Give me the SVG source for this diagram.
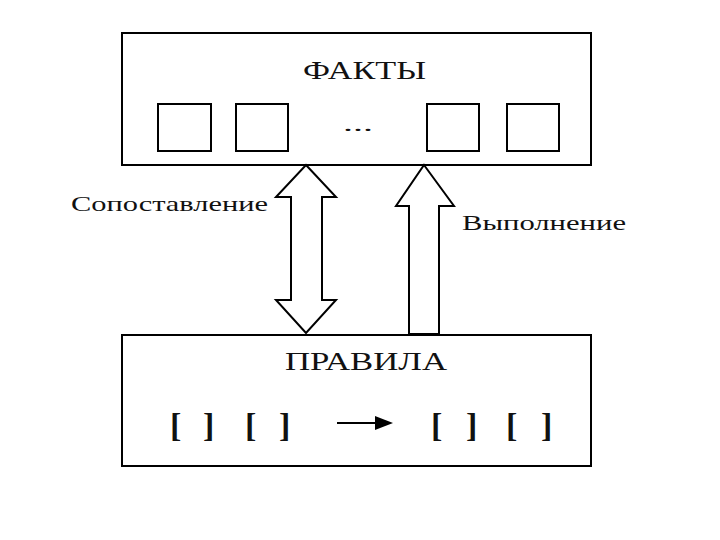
<svg xmlns="http://www.w3.org/2000/svg" width="720" height="540" viewBox="0 0 720 540">
<style>
.box{fill:#fff;stroke:#000;stroke-width:2}
.arr{fill:#fff;stroke:#000;stroke-width:2;stroke-linejoin:miter}
.t{font-family:"Liberation Serif","Times New Roman",serif;fill:#111}
.br{font-family:"Liberation Serif","Times New Roman",serif;font-weight:bold;font-size:34px;fill:#111}
</style>
<rect width="720" height="540" fill="#fff"/>
<g id="facts">
<rect class="box" x="122" y="33" width="469" height="132"/>
<text class="t" x="303" y="79" font-size="26" textLength="123" lengthAdjust="spacingAndGlyphs">ФАКТЫ</text>
<rect class="box" x="158" y="104" width="53" height="47"/>
<rect class="box" x="236" y="104" width="52" height="47"/>
<text class="t" x="343" y="131" font-size="18" textLength="30" lengthAdjust="spacingAndGlyphs">...</text>
<rect class="box" x="427" y="104" width="52" height="47"/>
<rect class="box" x="507" y="104" width="52" height="47"/>
</g>
<g id="rules">
<rect class="box" x="122" y="335" width="469" height="131"/>
<text class="t" x="285" y="370" font-size="26" textLength="162" lengthAdjust="spacingAndGlyphs">ПРАВИЛА</text>
<text class="br" x="170" y="437">[</text>
<text class="br" x="203" y="437">]</text>
<text class="br" x="245" y="437">[</text>
<text class="br" x="279" y="437">]</text>
<text class="br" x="431" y="437">[</text>
<text class="br" x="466" y="437">]</text>
<text class="br" x="506" y="437">[</text>
<text class="br" x="541" y="437">]</text>
<line x1="337" y1="423" x2="378" y2="423" stroke="#000" stroke-width="2"/>
<polygon points="375,416 393,423 375,430" fill="#000"/>
</g>
<g id="connectors">
<polygon class="arr" points="306,165 336,197 322,197 322,300 336,300 306,333 276,300 291,300 291,197 276,197"/>
<polygon class="arr" points="424,165 454,206 439,206 439,334 409,334 409,206 396,206"/>
<text class="t" x="71" y="211" font-size="22" textLength="197" lengthAdjust="spacingAndGlyphs">Сопоставление</text>
<text class="t" x="462" y="230" font-size="22" textLength="164" lengthAdjust="spacingAndGlyphs">Выполнение</text>
</g>
</svg>
